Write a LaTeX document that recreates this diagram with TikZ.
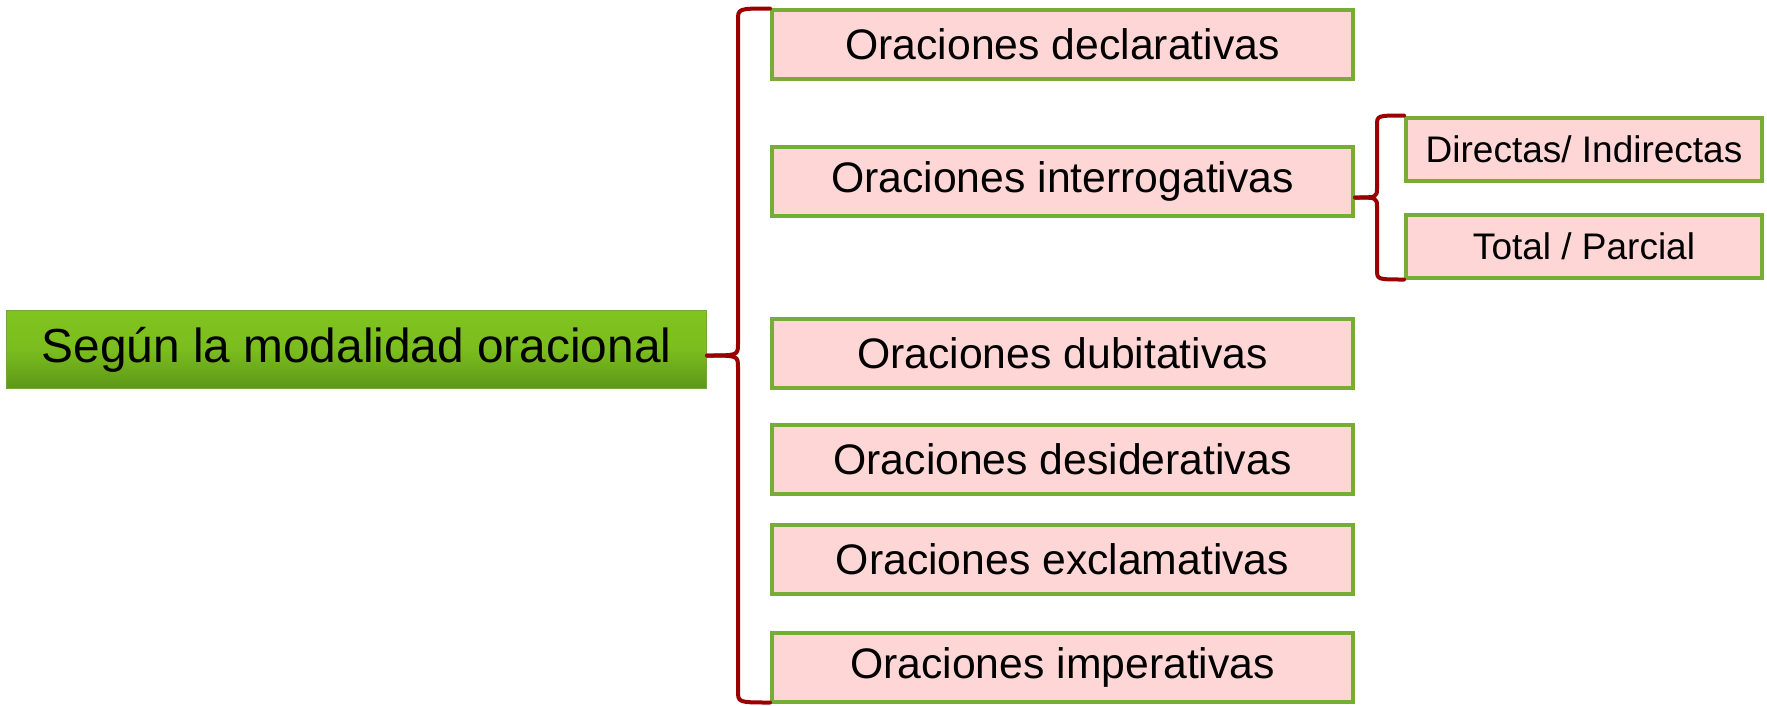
\documentclass[tikz,border=0pt]{standalone}
\usepackage{fontspec}
\setmainfont{Liberation Sans}
\usetikzlibrary{calc}
\definecolor{bracered}{HTML}{990000}
\definecolor{boxpink}{HTML}{FFD6D6}
\definecolor{boxgreen}{HTML}{77AC35}
\definecolor{roottop}{HTML}{80C41F}
\definecolor{rootbot}{HTML}{5D9618}
\definecolor{rootedge}{HTML}{6FA93A}
\tikzset{
  catbox/.style={draw=boxgreen, line width=4pt, fill=boxpink, inner sep=0pt,
    minimum width=581pt, minimum height=69pt,
    font=\fontsize{42.7}{50}\selectfont},
  subbox/.style={draw=boxgreen, line width=4pt, fill=boxpink, inner sep=0pt,
    minimum width=356pt, minimum height=63pt,
    font=\fontsize{37}{44}\selectfont},
  rootbox/.style={draw=rootedge, line width=1pt, top color=roottop, bottom color=rootbot,
    middle color=roottop!85!rootbot,
    inner sep=0pt, minimum width=700pt, minimum height=78pt,
    font=\fontsize{47.8}{56}\selectfont},
  bracket/.style={draw=bracered, line width=4pt, line cap=round, line join=round},
}
\begin{document}
\begin{tikzpicture}[x=1pt,y=-1pt]
\useasboundingbox (0,0) rectangle (1767,705);
\node[rootbox] (root) at (356.5,349.5) {Según la modalidad oracional};
\node[catbox] (d1) at (1062.5,44) {Oraciones declarativas};
\node[catbox] (d2) at (1062.5,181.5) {Oraciones interrogativas};
\node[catbox] (d3) at (1062.5,353) {Oraciones dubitativas};
\node[catbox] (d4) at (1062.5,459) {Oraciones desiderativas};
\node[catbox] (d5) at (1062.5,559) {Oraciones exclamativas};
\node[catbox] (d6) at (1062.5,667) {Oraciones imperativas};
\node[subbox] (s1) at (1584,149) {Directas/ Indirectas};
\node[subbox] (s2) at (1584,246) {Total / Parcial};
% main brace
\coordinate (bx) at (738,0);
\coordinate (btop) at ($(d1.north west)+(0,1)$);
\coordinate (bbot) at ($(d6.south west)+(0,-1)$);
\coordinate (bmid) at ($(btop)!0.5!(bbot)$);
\coordinate (btip) at (root.east |- bmid);
\draw[bracket] (btop) .. controls (bx |- btop) .. ($(bx |- btop)+(0,12)$)
  -- ($(bx |- bmid)+(0,-12)$) .. controls (bx |- bmid) .. (btip);
\draw[bracket] (bbot) .. controls (bx |- bbot) .. ($(bx |- bbot)+(0,-12)$)
  -- ($(bx |- bmid)+(0,12)$) .. controls (bx |- bmid) .. (btip);
% sub brace
\coordinate (sx) at (1377,0);
\coordinate (stop) at (s1.north west);
\coordinate (sbot) at (s2.south west);
\coordinate (smid) at ($(stop)!0.5!(sbot)$);
\coordinate (stip) at (d2.east |- smid);
\draw[bracket] (stop) .. controls (sx |- stop) .. ($(sx |- stop)+(0,10)$)
  -- ($(sx |- smid)+(0,-10)$) .. controls (sx |- smid) .. (stip);
\draw[bracket] (sbot) .. controls (sx |- sbot) .. ($(sx |- sbot)+(0,-10)$)
  -- ($(sx |- smid)+(0,10)$) .. controls (sx |- smid) .. (stip);
\end{tikzpicture}
\end{document}
